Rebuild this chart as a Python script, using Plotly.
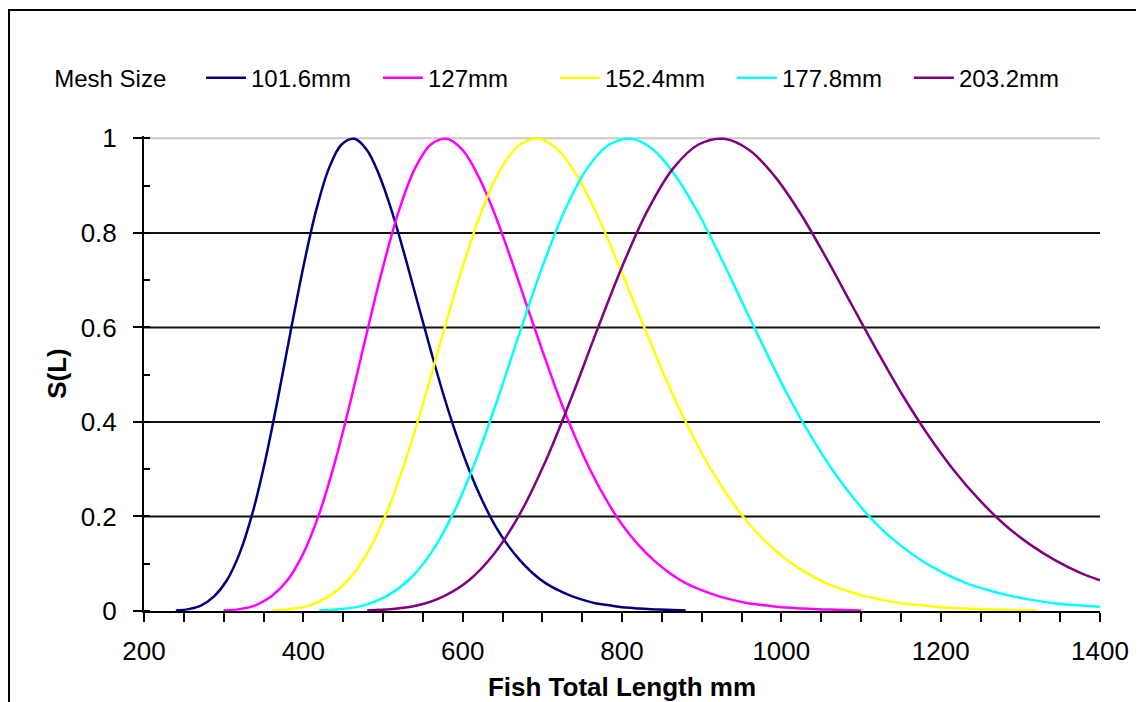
import plotly.graph_objects as go

# ---- data ----
mesh_labels = ["101.6mm", "127mm", "152.4mm", "177.8mm", "203.2mm"]
line_colors = ["#000080", "#FF00FF", "#FFFF00", "#00FFFF", "#800080"]

# sample positions (mm) along each curve
x_101 = list(range(240, 881, 16))
x_127 = list(range(300, 1101, 20))
x_152 = list(range(360, 1321, 24))
x_178 = list(range(420, 1401, 28))
x_203 = list(range(480, 1377, 32)) + [1400]

# S(L) values at those positions
s_101 = [0.001, 0.004, 0.012, 0.031, 0.065, 0.122, 0.206, 0.317, 0.449, 0.591, 0.728, 0.847, 0.936, 0.987,
         0.999, 0.975, 0.919, 0.841, 0.748, 0.649, 0.551, 0.457, 0.373, 0.299, 0.236, 0.183, 0.141, 0.107,
         0.080, 0.059, 0.044, 0.032, 0.023, 0.016, 0.012, 0.008, 0.006, 0.004, 0.003, 0.002, 0.001]
s_127 = [0.001, 0.004, 0.012, 0.031, 0.065, 0.122, 0.206, 0.317, 0.449, 0.591, 0.728, 0.847, 0.936, 0.987,
         0.999, 0.975, 0.919, 0.841, 0.748, 0.649, 0.551, 0.457, 0.373, 0.299, 0.236, 0.183, 0.141, 0.107,
         0.080, 0.059, 0.044, 0.032, 0.023, 0.016, 0.012, 0.008, 0.006, 0.004, 0.003, 0.002, 0.001]
s_152 = [0.001, 0.004, 0.012, 0.031, 0.065, 0.122, 0.206, 0.317, 0.449, 0.591, 0.728, 0.847, 0.936, 0.987,
         0.999, 0.975, 0.919, 0.841, 0.748, 0.649, 0.551, 0.457, 0.373, 0.299, 0.236, 0.183, 0.141, 0.107,
         0.080, 0.059, 0.044, 0.032, 0.023, 0.016, 0.012, 0.008, 0.006, 0.004, 0.003, 0.002, 0.001]
s_178 = [0.001, 0.004, 0.012, 0.031, 0.065, 0.122, 0.206, 0.317, 0.449, 0.591, 0.728, 0.847, 0.936, 0.987,
         0.999, 0.975, 0.919, 0.841, 0.748, 0.649, 0.551, 0.457, 0.373, 0.299, 0.236, 0.183, 0.141, 0.107,
         0.080, 0.059, 0.044, 0.032, 0.023, 0.016, 0.012, 0.009]
s_203 = [0.001, 0.004, 0.012, 0.031, 0.065, 0.122, 0.206, 0.317, 0.449, 0.591, 0.728, 0.847, 0.936, 0.987,
         0.999, 0.975, 0.919, 0.841, 0.748, 0.649, 0.551, 0.457, 0.373, 0.299, 0.236, 0.183, 0.141, 0.107,
         0.080, 0.065]

x_ticks = [200, 400, 600, 800, 1000, 1200, 1400]
y_ticks = [0, 0.2, 0.4, 0.6, 0.8, 1]
y_tick_text = ["0", "0.2", "0.4", "0.6", "0.8", "1"]
grid_levels = [0.2, 0.4, 0.6, 0.8]

series_x = [x_101, x_127, x_152, x_178, x_203]
series_y = [s_101, s_127, s_152, s_178, s_203]

FONT = "Liberation Sans, Arial, sans-serif"

fig = go.Figure()
for name, col, xs, ys in zip(mesh_labels, line_colors, series_x, series_y):
    fig.add_trace(go.Scatter(x=xs, y=ys, mode="lines", name=name,
                             line=dict(color=col, width=2.5, shape="spline", smoothing=1.0)))

shapes = []
for g in grid_levels:
    shapes.append(dict(type="line", xref="paper", yref="y", x0=0, x1=1, y0=g, y1=g,
                       line=dict(color="#111111", width=2), layer="below"))
shapes.append(dict(type="line", xref="paper", yref="y", x0=0, x1=1, y0=1, y1=1,
                   line=dict(color="#c8c8c8", width=2), layer="below"))
# outer chart frame
shapes.append(dict(type="rect", xref="paper", yref="paper",
                   x0=-0.1412, x1=1.0429, y0=-0.3, y1=1.2653,
                   line=dict(color="#000000", width=2), fillcolor="rgba(0,0,0,0)", layer="above"))

# the page body adds an 8px offset, so the figure is 8px smaller on each side
fig.update_layout(
    width=1136, height=694,
    margin=dict(l=136, r=44, t=128, b=91),
    paper_bgcolor="white", plot_bgcolor="white",
    font=dict(family=FONT, size=25, color="black"),
    showlegend=True,
    legend=dict(orientation="h", x=-0.096, xanchor="left", y=1.122, yanchor="middle",
                bgcolor="rgba(0,0,0,0)", font=dict(size=24),
                title=dict(text="Mesh Size    ", side="left", font=dict(size=24)),
                itemwidth=40, traceorder="normal",
                entrywidth=122, entrywidthmode="pixels"),
    shapes=shapes,
)

fig.update_xaxes(range=[200, 1400], tickvals=x_ticks, ticks="outside", ticklen=9, tickwidth=2,
                 tickcolor="black", showline=True, linecolor="black", linewidth=2,
                 showgrid=False, zeroline=False, layer="below traces", automargin=False,
                 minor=dict(dtick=50, tick0=200, ticks="outside", ticklen=9, tickwidth=2,
                            tickcolor="black", showgrid=False),
                 tickfont=dict(size=26), ticklabelstandoff=7,
                 title=dict(text="<b>Fish Total Length mm</b>", font=dict(size=26), standoff=14))
fig.update_yaxes(range=[0, 1.005], tickvals=y_ticks, ticktext=y_tick_text, ticks="outside",
                 ticklen=9, tickwidth=2, tickcolor="black", showline=True, linecolor="black",
                 linewidth=2, showgrid=False, zeroline=False, layer="below traces", automargin=False,
                 minor=dict(dtick=0.1, tick0=0, ticks="inside", ticklen=6, tickwidth=2,
                            tickcolor="black", showgrid=False),
                 tickfont=dict(size=26), ticklabelstandoff=11,
                 title=dict(text="<b>S(L)</b>", font=dict(size=26), standoff=7))

fig.write_html("out.html")
